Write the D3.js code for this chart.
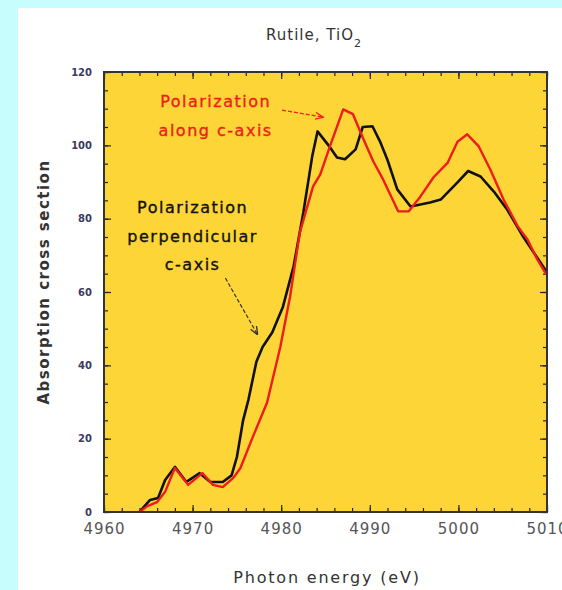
<!DOCTYPE html>
<html>
<head>
<meta charset="utf-8">
<script src="https://cdn.jsdelivr.net/npm/d3@7"></script>
<style>
  html, body { margin: 0; padding: 0; background: #c8fdfd; }
  svg { display: block; }
  .axis path { display: none; }
  .axis line { stroke: #222; stroke-width: 1.2; }
  .xlab text { font: 15px "DejaVu Sans", sans-serif; fill: #555; letter-spacing: 1px; }
  .ylab text { font: bold 10px "DejaVu Sans", sans-serif; fill: #3c3a5e; }
  .note { font: 16px "DejaVu Sans", sans-serif; letter-spacing: 1.5px; stroke-width: 0.35; }
</style>
</head>
<body>
<svg class="chart"></svg>
<script>
// photon energy (eV), absorption cross section
var perpE = [4964, 4965.2, 4966.1, 4966.9, 4968, 4969.3, 4970.8, 4972, 4973.4, 4974.4, 4975, 4975.7, 4976.3, 4977.2, 4977.9, 4979, 4980.2, 4981.4, 4982.5, 4983.5, 4984.1, 4985.5, 4986.3, 4987.2, 4988.4, 4989.2, 4990.3, 4991.2, 4992, 4993.1, 4994.6, 4996.8, 4998, 4999.9, 5001.1, 5002.5, 5004, 5005.5, 5007.3, 5008.5, 5009.8, 5010];
var perpA = [0, 3.3, 3.8, 8.7, 12.3, 8.2, 10.6, 8.2, 8.2, 10, 15, 25, 30.6, 41, 45, 49, 56, 67, 81.7, 97, 103.8, 99.5, 96.7, 96.2, 98.9, 105, 105.2, 100.8, 96, 88, 83.3, 84.4, 85.2, 89.9, 93, 91.5, 87.4, 82.5, 75.1, 70.8, 66.1, 65.5];

var alongE = [4964, 4964.9, 4966, 4966.9, 4968, 4969.5, 4971.1, 4972.3, 4973.4, 4974.6, 4975.4, 4976.8, 4978.4, 4979.9, 4981, 4982.1, 4983.6, 4984.4, 4985.5, 4987, 4988.1, 4989.3, 4990.4, 4991.5, 4993.2, 4994.4, 4995.7, 4997.2, 4998.8, 4999.9, 5001, 5002.3, 5003.6, 5005.1, 5006.7, 5007.8, 5008.9, 5009.8, 5010];
var alongA = [0, 1.6, 2.7, 5.5, 12, 7.4, 10.6, 7.4, 6.8, 9.3, 12, 20.5, 29.8, 45, 58.7, 76.2, 88.8, 92, 99.7, 109.8, 108.5, 101.6, 95.6, 90.7, 82, 82, 86, 91.3, 95.3, 101, 103, 99.7, 93.4, 85.2, 77.9, 74.3, 68.9, 65.3, 64.8];

var xTicks = [4960, 4970, 4980, 4990, 5000, 5010];
var yTicks = [0, 20, 40, 60, 80, 100, 120];

// annotation text lines and arrows (in data units)
var alongText = ["Polarization", "along c-axis"];
var perpText = ["Polarization", "perpendicular", "c-axis"];
var arrows = [
    {from: [4980.1, 109.6], to: [4984.7, 107.7], color: "#ee1c1c"},
    {from: [4973.7, 63.8], to: [4977.3, 48.5], color: "#333"}
];

var width = 562, height = 590;
var pLeft = 104, pRight = 547, pTop = 72, pBottom = 512;

var chart = d3.select(".chart").attr("width", width).attr("height", height);

chart.append("rect")
    .attr("x", 18).attr("y", 8)
    .attr("width", width - 18).attr("height", height - 8)
    .attr("fill", "#fff");

var x = d3.scaleLinear().domain([4960, 5010]).range([pLeft, pRight]);
var y = d3.scaleLinear().domain([0, 120]).range([pBottom, pTop]);

chart.append("rect")
    .attr("x", pLeft).attr("y", pTop)
    .attr("width", pRight - pLeft).attr("height", pBottom - pTop)
    .attr("fill", "#fdd537");

var defs = chart.append("defs");
["#ee1c1c", "#333"].forEach(function(c, i) {
    defs.append("marker")
        .attr("id", "arr" + i)
        .attr("viewBox", "0 0 10 10")
        .attr("refX", 9).attr("refY", 5)
        .attr("markerWidth", 7).attr("markerHeight", 7)
        .attr("orient", "auto")
        .append("path")
        .attr("d", "M0,1 L10,5 L0,9")
        .attr("fill", "none").attr("stroke", c).attr("stroke-width", 1.6);
});

// minor + major ticks, all pointing inward
var minorX = d3.range(4960, 5011, 2), minorY = d3.range(0, 121, 5);

function tickAxis(axis, scale, vals, size, tx, ty) {
    chart.append("g").attr("class", "axis")
        .attr("transform", "translate(" + tx + "," + ty + ")")
        .call(axis(scale).tickValues(vals).tickSize(size).tickFormat(""));
}
tickAxis(d3.axisBottom, x, minorX, -4, 0, pBottom);
tickAxis(d3.axisBottom, x, xTicks, -7, 0, pBottom);
tickAxis(d3.axisTop, x, minorX, -4, 0, pTop);
tickAxis(d3.axisTop, x, xTicks, -7, 0, pTop);
tickAxis(d3.axisLeft, y, minorY, -4, pLeft, 0);
tickAxis(d3.axisLeft, y, yTicks, -7, pLeft, 0);
tickAxis(d3.axisRight, y, minorY, -4, pRight, 0);
tickAxis(d3.axisRight, y, yTicks, -7, pRight, 0);

// labels
chart.append("g").attr("class", "xlab")
    .attr("transform", "translate(0," + pBottom + ")")
    .call(d3.axisBottom(x).tickValues(xTicks).tickSize(0).tickPadding(11).tickFormat(d3.format("d")))
    .select(".domain").remove();

chart.append("g").attr("class", "ylab")
    .attr("transform", "translate(" + (pLeft - 4) + ",0)")
    .call(d3.axisLeft(y).tickValues(yTicks).tickSize(0).tickPadding(8))
    .select(".domain").remove();

// curves
var line = d3.line()
    .x(function(d) { return x(d[0]); })
    .y(function(d) { return y(d[1]); });

chart.append("path")
    .datum(d3.zip(perpE, perpA))
    .attr("d", line)
    .attr("fill", "none").attr("stroke", "#111").attr("stroke-width", 2.6)
    .attr("stroke-linejoin", "round");

chart.append("path")
    .datum(d3.zip(alongE, alongA))
    .attr("d", line)
    .attr("fill", "none").attr("stroke", "#ee1c1c").attr("stroke-width", 2.4)
    .attr("stroke-linejoin", "round");

chart.append("rect")
    .attr("x", pLeft).attr("y", pTop)
    .attr("width", pRight - pLeft).attr("height", pBottom - pTop)
    .attr("fill", "none").attr("stroke", "#333").attr("stroke-width", 2);

// annotations
chart.append("g").selectAll("text")
    .data(alongText)
    .enter().append("text")
    .attr("class", "note")
    .attr("x", x(4972.6))
    .attr("y", function(d, i) { return y(110.5) + i * 29; })
    .attr("text-anchor", "middle")
    .attr("fill", "#ee1c1c").attr("stroke", "#ee1c1c")
    .text(function(d) { return d; });

chart.append("g").selectAll("text")
    .data(perpText)
    .enter().append("text")
    .attr("class", "note")
    .attr("x", x(4970))
    .attr("y", function(d, i) { return y(81.5) + i * 28.5; })
    .attr("text-anchor", "middle")
    .attr("fill", "#111").attr("stroke", "#111")
    .text(function(d) { return d; });

chart.append("g").selectAll("line")
    .data(arrows)
    .enter().append("line")
    .attr("x1", function(d) { return x(d.from[0]); })
    .attr("y1", function(d) { return y(d.from[1]); })
    .attr("x2", function(d) { return x(d.to[0]); })
    .attr("y2", function(d) { return y(d.to[1]); })
    .attr("stroke", function(d) { return d.color; })
    .attr("stroke-width", 1.2)
    .attr("stroke-dasharray", "4,2")
    .attr("marker-end", function(d, i) { return "url(#arr" + i + ")"; });

// title and axis titles
var title = chart.append("text")
    .attr("x", 314).attr("y", 40)
    .attr("text-anchor", "middle")
    .style("font", "15px 'DejaVu Sans', sans-serif")
    .style("letter-spacing", "1px")
    .attr("fill", "#333");
title.append("tspan").text("Rutile, TiO");
title.append("tspan").attr("dy", 7).style("font-size", "11px").text("2");

chart.append("text")
    .attr("x", 327).attr("y", 583)
    .attr("text-anchor", "middle")
    .style("font", "16px 'DejaVu Sans', sans-serif")
    .style("letter-spacing", "1.8px")
    .attr("fill", "#333")
    .text("Photon energy (eV)");

chart.append("text")
    .attr("transform", "translate(49,282) rotate(-90)")
    .attr("text-anchor", "middle")
    .style("font", "bold 15px 'DejaVu Sans', sans-serif")
    .style("letter-spacing", "1.5px")
    .attr("fill", "#333")
    .text("Absorption cross section");
</script>
</body>
</html>
